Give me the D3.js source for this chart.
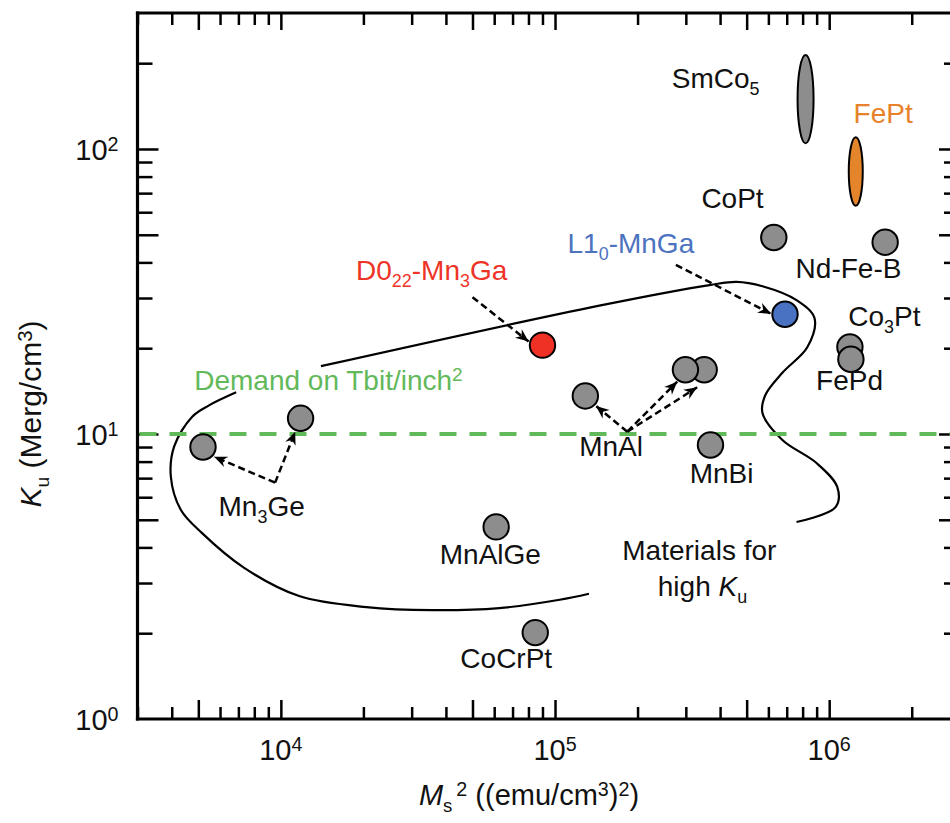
<!DOCTYPE html>
<html>
<head>
<meta charset="utf-8">
<script src="https://cdn.jsdelivr.net/npm/d3@7"></script>
<style>
  html, body { margin: 0; padding: 0; background: #fff; }
  svg { display: block; font-family: "Liberation Sans", Arial, Helvetica, sans-serif; }
</style>
</head>
<body>
<div id="chart"></div>
<script>
// materials : Ms^2 ((emu/cm3)^2) vs Ku (Merg/cm3)
var names = ["Mn3Ge-a", "Mn3Ge-b", "D022-Mn3Ga", "MnAl-a", "MnAl-c", "MnAl-b", "MnBi", "MnAlGe", "CoCrPt", "L10-MnGa", "CoPt", "Nd-Fe-B", "Co3Pt", "FePd"];
var ms2   = [5.2e3, 1.18e4, 9.0e4, 1.29e5, 3.5e5, 2.99e5, 3.69e5, 6.1e4, 8.47e4, 6.9e5, 6.28e5, 1.6e6, 1.19e6, 1.2e6];
var ku    = [9.0, 11.35, 20.5, 13.6, 16.8, 16.8, 9.15, 4.72, 2.01, 26.3, 48.9, 47.1, 20.2, 18.3];
var kinds = ["gray", "gray", "red", "gray", "gray", "gray", "gray", "gray", "gray", "blue", "gray", "gray", "gray", "gray"];

// ranges drawn as tall ellipses
var bandNames = ["SmCo5", "FePt"];
var bandMs2   = [8.2e5, 1.25e6];
var bandKuLo  = [104.7, 63.2];
var bandKuHi  = [213.8, 110];
var bandKinds = ["gray", "orange"];

// "materials for high Ku" boundary (two open pieces)
var upperMs2 = [1.40e4, 1.45e5, 3.66e5, 4.59e5, 5.71e5, 7.6e5, 8.84e5, 8.33e5, 6.75e5, 5.85e5, 5.71e5, 6.75e5, 8.99e5, 1.07e6, 1.055e6, 7.6e5];
var upperKu  = [17.3, 28.2, 33.3, 34.2, 33.0, 29.5, 25.5, 20.2, 16.4, 13.7, 11.85, 9.53, 7.91, 6.52, 5.54, 4.91];
var lowerMs2 = [6.87e3, 5.47e3, 4.75e3, 4.08e3, 3.97e3, 4.32e3, 5.16e3, 7.35e3, 1.166e4, 2.05e4, 3.57e4, 6.26e4, 1.04e5, 1.33e5];
var lowerKu  = [14.0, 12.6, 11.5, 9.03, 7.08, 5.41, 4.49, 3.39, 2.70, 2.47, 2.41, 2.45, 2.62, 2.75];

// dashed arrows (from -> to)
var arrowFromMs2 = [9.53e3, 9.53e3, 1.835e5, 1.835e5, 1.835e5, 5.0e4, 2.76e5];
var arrowFromKu  = [6.75, 6.75, 10.19, 10.19, 10.19, 30.2, 39.2];
var arrowToMs2   = [5.71e3, 1.128e4, 1.411e5, 2.79e5, 3.30e5, 8.01e4, 6.14e5];
var arrowToKu    = [8.32, 10.19, 12.54, 15.26, 14.58, 21.1, 26.4];

var demandKu = 10;

// labels: text pieces, anchor point (Ms2, Ku)
var labelText = [
  [["SmCo"], ["5", "sub"]],
  [["FePt"]],
  [["CoPt"]],
  [["L1"], ["0", "sub"], ["-MnGa"]],
  [["D0"], ["22", "sub"], ["-Mn"], ["3", "sub"], ["Ga"]],
  [["Nd-Fe-B"]],
  [["Co"], ["3", "sub"], ["Pt"]],
  [["FePd"]],
  [["MnAl"]],
  [["MnBi"]],
  [["Mn"], ["3", "sub"], ["Ge"]],
  [["MnAlGe"]],
  [["CoCrPt"]],
  [["Materials for"]],
  [["high "], ["K", "i"], ["u", "sub"]],
  [["Demand on Tbit/inch"], ["2", "sup"]]
];
var labelMs2 = [5.57e5, 1.227e6, 4.44e5, 1.891e5, 3.55e4, 1.176e6, 1.59e6, 1.186e6, 1.601e5, 4.05e5, 8.51e3, 5.81e4, 6.64e4, 3.36e5, 3.45e5, 4.83e3];
var labelKu  = [163.7, 122.9, 62.1, 43.2, 34.7, 35.2, 24.0, 14.27, 8.37, 6.75, 5.16, 3.50, 1.51, 3.61, 2.70, 14.3];
var labelAnchor = ["end", "start", "middle", "middle", "middle", "middle", "middle", "middle", "middle", "middle", "middle", "middle", "middle", "middle", "middle", "start"];
var labelKind = ["black", "orange", "black", "blue", "red", "black", "black", "black", "black", "black", "black", "black", "black", "black", "black", "green"];

var xLabelExps = [4, 5, 6];
var yLabelExps = [0, 1, 2];

var fills = { gray: "#8d8d8d", red: "#ee3124", blue: "#4a72c2", orange: "#e5852b" };
var textColors = { black: "#111", orange: "#e8822a", blue: "#4d73bf", red: "#ee3427", green: "#62b95a" };

var width = 950, height = 823;
var svg = d3.select("#chart").append("svg")
  .attr("width", width)
  .attr("height", height);

var x = d3.scaleLog().domain([3e3, 3e6]).range([137.5, 960]);
var y = d3.scaleLog().domain([1, 300]).range([719, 13]);

// rich text helper (sub / sup / italic)
function rich(sel, parts, size) {
  var shift = 0;
  parts.forEach(function(p) {
    var t = sel.append("tspan").text(p[0]);
    var target = 0, fs = size;
    if (p[1] === "sub") { target = size * 0.25; fs = size * 0.64; }
    if (p[1] === "sup") { target = -size * 0.3; fs = size * 0.68; }
    if (p[1] === "i") t.style("font-style", "italic");
    if (p[2]) t.attr("dx", p[2]);
    t.attr("font-size", fs);
    if (target !== shift) { t.attr("dy", target - shift); shift = target; }
  });
}

// tick values
var xMinor = [], xMajor = [], yMinor = [], yMajor = [];
for (var e = 3; e <= 6; e++) {
  for (var k = 1; k <= 9; k++) {
    var v = k * Math.pow(10, e);
    if (v < 3e3 || v > 3e6) continue;
    if (k === 1 || k === 5) xMajor.push(v); else xMinor.push(v);
  }
}
for (var e2 = 0; e2 <= 2; e2++) {
  for (var k2 = 1; k2 <= 9; k2++) {
    var w = k2 * Math.pow(10, e2);
    if (w <= 1 || w >= 300) continue;
    if (k2 === 1 || k2 === 5) yMajor.push(w); else yMinor.push(w);
  }
}

function styleAxis(g) {
  g.select(".domain").remove();
  g.selectAll(".tick line").attr("stroke", "#000").attr("stroke-width", 2.5);
  g.selectAll(".tick text").remove();
}

var yb = y(1), yt = y(300), xl = x(3e3), xr = 956;

svg.append("g").attr("transform", "translate(0," + yb + ")")
  .call(d3.axisBottom(x).tickValues(xMinor).tickSize(-12)).call(styleAxis);
svg.append("g").attr("transform", "translate(0," + yb + ")")
  .call(d3.axisBottom(x).tickValues(xMajor).tickSize(-19)).call(styleAxis);
svg.append("g").attr("transform", "translate(0," + yt + ")")
  .call(d3.axisTop(x).tickValues(xMinor).tickSize(-12)).call(styleAxis);
svg.append("g").attr("transform", "translate(0," + yt + ")")
  .call(d3.axisTop(x).tickValues(xMajor).tickSize(-17)).call(styleAxis);
svg.append("g").attr("transform", "translate(" + xl + ",0)")
  .call(d3.axisLeft(y).tickValues(yMinor).tickSize(-15)).call(styleAxis);
svg.append("g").attr("transform", "translate(" + xl + ",0)")
  .call(d3.axisLeft(y).tickValues(yMajor).tickSize(-21)).call(styleAxis);
svg.append("g").attr("transform", "translate(" + xr + ",0)")
  .call(d3.axisRight(y).tickValues(yMinor).tickSize(-12)).call(styleAxis);
svg.append("g").attr("transform", "translate(" + xr + ",0)")
  .call(d3.axisRight(y).tickValues(yMajor).tickSize(-17)).call(styleAxis);

// frame
var frame = svg.append("g").attr("stroke", "#000").attr("stroke-width", 3.2).attr("stroke-linecap", "square");
frame.append("line").attr("x1", xl).attr("x2", xl).attr("y1", yt).attr("y2", yb);
frame.append("line").attr("x1", xl).attr("x2", width + 10).attr("y1", yb).attr("y2", yb);
frame.append("line").attr("x1", xl).attr("x2", width + 10).attr("y1", yt).attr("y2", yt);

// tick labels
svg.append("g").selectAll("text").data(xLabelExps).enter().append("text")
  .attr("x", function(d) { return x(Math.pow(10, d)); })
  .attr("y", 760)
  .attr("text-anchor", "middle")
  .attr("fill", "#111")
  .each(function(d) { rich(d3.select(this), [["10"], [String(d), "sup"]], 29); });

svg.append("g").selectAll("text").data(yLabelExps).enter().append("text")
  .attr("x", xl - 19)
  .attr("y", function(d) { return y(Math.pow(10, d)) + 11; })
  .attr("text-anchor", "end")
  .attr("fill", "#111")
  .each(function(d) { rich(d3.select(this), [["10"], [String(d), "sup"]], 29); });

// axis titles
var xt = svg.append("text").attr("x", 529).attr("y", 805).attr("text-anchor", "middle").attr("fill", "#111");
rich(xt, [["M", "i"], ["s", "sub"], ["2", "sup", 4], [" ((emu/cm"], ["3", "sup"], [")"], ["2", "sup"], [")"]], 29);

var ytl = svg.append("text").attr("transform", "translate(41,414) rotate(-90)").attr("text-anchor", "middle").attr("fill", "#111");
rich(ytl, [["K", "i"], ["u", "sub"], [" (Merg/cm"], ["3", "sup"], [")"]], 30);

// boundary curve
var boundLine = d3.line()
  .x(function(d) { return x(d[0]); })
  .y(function(d) { return y(d[1]); })
  .curve(d3.curveCatmullRom.alpha(0.5));

[[upperMs2, upperKu], [lowerMs2, lowerKu]].forEach(function(b) {
  svg.append("path")
    .datum(d3.zip(b[0], b[1]))
    .attr("d", boundLine)
    .attr("fill", "none")
    .attr("stroke", "#000")
    .attr("stroke-width", 2.2);
});

// demand line
svg.append("line")
  .attr("x1", xl + 2).attr("x2", width + 10)
  .attr("y1", y(demandKu)).attr("y2", y(demandKu))
  .attr("stroke", "#62b95a")
  .attr("stroke-width", 4)
  .attr("stroke-dasharray", "17,13");

// arrows
svg.append("defs").append("marker")
  .attr("id", "head")
  .attr("markerUnits", "userSpaceOnUse")
  .attr("viewBox", "-14 -7 16 14")
  .attr("refX", 0).attr("refY", 0)
  .attr("markerWidth", 16).attr("markerHeight", 14)
  .attr("orient", "auto")
  .append("path")
  .attr("d", "M0,0 L-13,-5.5 L-9,0 L-13,5.5 Z")
  .attr("fill", "#000");

svg.append("g").selectAll("line").data(arrowFromMs2).enter().append("line")
  .attr("x1", function(d, i) { return x(arrowFromMs2[i]); })
  .attr("y1", function(d, i) { return y(arrowFromKu[i]); })
  .attr("x2", function(d, i) { return x(arrowToMs2[i]); })
  .attr("y2", function(d, i) { return y(arrowToKu[i]); })
  .attr("stroke", "#000")
  .attr("stroke-width", 2.5)
  .attr("stroke-dasharray", "7,4")
  .attr("marker-end", "url(#head)");

// ellipses
svg.append("g").selectAll("ellipse").data(bandNames).enter().append("ellipse")
  .attr("cx", function(d, i) { return x(bandMs2[i]); })
  .attr("cy", function(d, i) { return (y(bandKuLo[i]) + y(bandKuHi[i])) / 2; })
  .attr("rx", function(d, i) { return i === 0 ? 8 : 7; })
  .attr("ry", function(d, i) { return (y(bandKuLo[i]) - y(bandKuHi[i])) / 2; })
  .attr("fill", function(d, i) { return fills[bandKinds[i]]; })
  .attr("stroke", "#000")
  .attr("stroke-width", 2);

// points
svg.append("g").selectAll("circle").data(names).enter().append("circle")
  .attr("cx", function(d, i) { return x(ms2[i]); })
  .attr("cy", function(d, i) { return y(ku[i]); })
  .attr("r", 12.7)
  .attr("fill", function(d, i) { return fills[kinds[i]]; })
  .attr("stroke", "#000")
  .attr("stroke-width", 2);

// labels
svg.append("g").selectAll("text").data(labelText).enter().append("text")
  .attr("x", function(d, i) { return x(labelMs2[i]); })
  .attr("y", function(d, i) { return y(labelKu[i]); })
  .attr("text-anchor", function(d, i) { return labelAnchor[i]; })
  .attr("fill", function(d, i) { return textColors[labelKind[i]]; })
  .each(function(d, i) { rich(d3.select(this), d, 28); });
</script>
</body>
</html>
